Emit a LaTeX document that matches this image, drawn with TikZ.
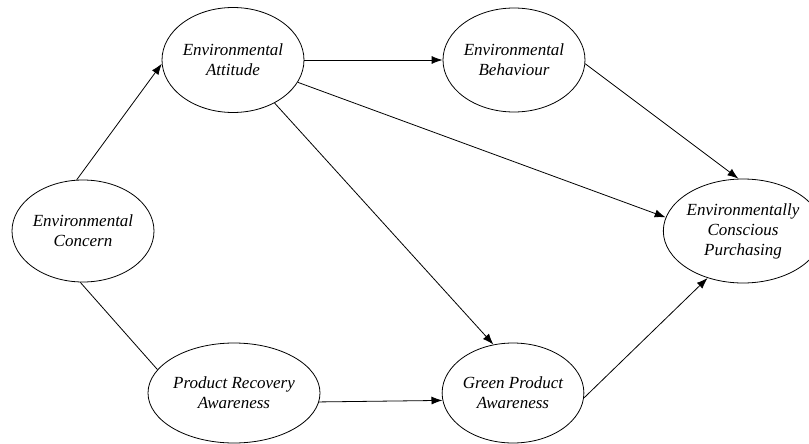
\documentclass[tikz,border=0pt]{standalone}
\usepackage{fontspec}
\setmainfont{Liberation Serif}
\usetikzlibrary{positioning,shapes,arrows.meta}
\tikzstyle{construct}=[draw,ellipse,inner sep=0pt,align=center,
  minimum width=140pt,minimum height=104pt,
  font=\itshape\fontsize{17}{20}\selectfont]
\newcommand{\newConstruct}[4]{\node[construct,#3](#1)[#4]{#2};}
\newcommand{\newLink}[3]{\draw[#3] (#1) -- (#2);}

\begin{document}
\begin{tikzpicture}[on grid,
    >={Latex[length=11pt,width=8pt]},
    line width=0.8pt  %thin looked too faint
    ]
    \useasboundingbox (0,0) rectangle (809pt,-444pt);
    \newConstruct{con}{Environmental\\Concern}{minimum width=142pt,minimum height=102pt}{at={(83pt,-231pt)}}
    \newConstruct{att}{Environmental\\Attitude}{minimum width=141pt,minimum height=105pt}{above right=171pt and 150pt of con}
    \newConstruct{beh}{Environmental\\Behaviour}{}{right=281pt of att}
    \newConstruct{pra}{Product Recovery\\Awareness}{minimum width=137pt,minimum height=100pt}{below right=162pt and 151pt of con}
    \newConstruct{gpa}{Green Product\\Awareness}{minimum width=137pt,minimum height=100pt}{right=279pt of pra}
    \newConstruct{ecp}{Environmentally\\Conscious\\Purchasing}{minimum width=132pt}{below right=171pt and 229pt of beh}
    \newLink{con.97}{att.183}{->}
    \newLink{con.-93}{pra.163}{}
    \newLink{att.0}{beh.180}{->}
    \newLink{att.-19}{ecp.170}{->}
    \newLink{att.-46}{gpa.112}{->}
    \newLink{beh.-3}{ecp.95}{->}
    \newLink{pra.-6}{gpa.186}{->}
    \newLink{gpa.-4}{ecp.-127}{->}
  \end{tikzpicture}
\end{document}
